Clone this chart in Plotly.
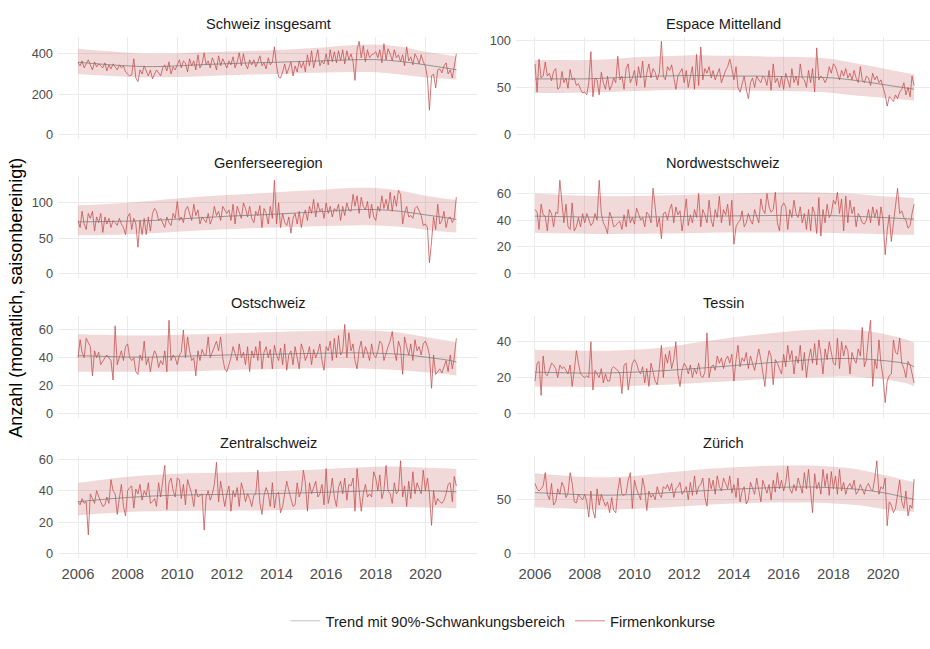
import pandas as pd
import plotly.graph_objects as go

# ---------------- data ----------------
months = pd.date_range("2006-01-01", periods=184, freq="MS")
knots = [f"{y}-01-01" for y in range(2006, 2022)] + ["2021-04-01"]

ch = [355, 340, 365, 330, 350, 370, 345, 320, 360, 335, 350, 340,
      330, 355, 315, 345, 325, 350, 335, 320, 345, 330, 340, 310,
      300, 290, 295, 375, 280, 262, 320, 300, 340, 310, 290, 320,
      275, 300, 320, 305, 290, 330, 345, 315, 360, 300, 335, 320,
      345, 370, 330, 365, 355, 310, 375, 340, 365, 320, 395, 330,
      350, 405, 345, 365, 330, 380, 355, 320, 390, 340, 375, 350,
      330, 365, 345, 385, 330, 360, 405, 340, 400, 350, 325, 370,
      345, 370, 335, 360, 390, 340, 355, 325, 380, 345, 360, 435,
      340, 285, 280, 310, 350, 300, 325, 360, 290, 340, 310, 365,
      330, 360, 310, 395, 340, 415, 330, 380, 420, 340, 365, 350,
      400, 345, 420, 360, 410, 355, 415, 365, 420, 350, 415, 370,
      400, 360, 268, 420, 462, 380, 440, 360, 420, 380, 395, 400,
      410, 380, 420, 355, 450, 370, 425, 400, 365, 420, 380, 395,
      360, 395, 340, 435, 365, 385, 345, 400, 380, 350, 395, 360,
      340, 280, 120, 290, 300, 230, 320, 325, 305, 340, 355, 300,
      320, 280, 330, 400]
ch_trend = [358, 348, 340, 336, 340, 346, 351, 355, 358, 362, 366, 370, 371, 362, 345, 326, 321]
ch_hi = [425, 415, 405, 400, 402, 407, 411, 415, 419, 425, 433, 442, 446, 435, 410, 392, 388]
ch_lo = [300, 292, 286, 283, 285, 289, 293, 297, 300, 304, 307, 309, 308, 297, 282, 274, 272]

em = [75, 45, 80, 60, 62, 77, 62, 65, 57, 67, 70, 48,
      50, 67, 55, 60, 49, 69, 58, 60, 52, 54, 48, 44,
      45, 42, 55, 88, 40, 60, 58, 42, 66, 55, 48, 62,
      47, 52, 60, 55, 83, 58, 62, 48, 70, 75, 55, 60,
      68, 52, 72, 60, 78, 50, 65, 75, 60, 70, 66, 58,
      65, 99, 62, 58, 72, 68, 74, 60, 48, 62, 66, 70,
      55, 68, 50, 62, 72, 48, 85, 52, 93, 58, 70, 65,
      72, 60, 68, 58, 65, 70, 55, 62, 68, 72, 80, 70,
      58, 72, 50, 45, 55, 62, 48, 38, 55, 60, 50, 62,
      58, 55, 62, 60, 52, 68, 47, 75, 55, 60, 50, 62,
      48, 65, 58, 50, 70, 55, 62, 52, 75, 60, 58, 50,
      68, 55, 70, 45, 92, 58, 62, 60, 55, 60, 72, 65,
      75, 72, 65, 58, 68, 62, 70, 60, 65, 58, 68, 60,
      55, 72, 58, 55, 62, 60, 52, 65, 58, 62, 55, 58,
      50, 42, 30, 40, 38, 35, 42, 38, 45, 48, 55, 42,
      50, 40, 62, 52]
em_trend = [59, 59, 59, 60, 61, 62, 62.5, 62.5, 62, 62, 61.5, 61, 60, 57, 53, 49, 48]
em_hi = [79, 79, 79, 80, 82, 83, 84, 84, 83.5, 83, 82.5, 82, 80, 75, 70, 65, 64]
em_lo = [44, 44, 44.5, 45, 46, 47, 47.5, 47.5, 47, 46.5, 46, 45.5, 44, 41, 39, 36.5, 36]

ge = [75, 65, 88, 70, 62, 85, 78, 88, 60, 80, 72, 85,
      58, 80, 70, 78, 65, 75, 72, 68, 78, 70, 65, 55,
      80, 85, 62, 78, 70, 37, 75, 55, 78, 55, 80, 60,
      85, 92, 88, 75, 78, 70, 65, 80, 72, 68, 85, 78,
      102, 75, 80, 72, 90, 95, 85, 75, 98, 82, 90, 70,
      80, 75, 72, 85, 70, 78, 95, 82, 88, 75, 95, 90,
      85, 90, 75, 98, 70, 95, 85, 78, 100, 92, 80, 95,
      78, 72, 88, 82, 96, 65, 92, 85, 70, 95, 78, 132,
      70, 100, 65, 85, 72, 68, 80, 57, 78, 85, 70, 88,
      65, 82, 90, 75, 95, 85, 105, 80, 100, 88, 92, 78,
      100, 85, 95, 80, 92, 88, 98, 75, 95, 82, 100, 90,
      88, 112, 95, 110, 85, 108, 95, 90, 102, 78, 98, 80,
      75, 95, 88, 110, 92, 105, 90, 115, 88, 110, 95, 118,
      112, 70, 85, 95, 80, 82, 78, 92, 95, 88, 82, 68,
      70, 65, 15, 45, 80, 62, 98, 70, 75, 88, 65, 78,
      80, 72, 78, 108]
ge_trend = [73, 73.5, 74, 75, 77, 79, 81, 82.5, 84, 86, 88, 90, 90.5, 88, 83, 78, 76.5]
ge_hi = [96.5, 98, 100, 103, 106, 109, 111, 113, 115, 117, 119, 121, 121, 117, 110, 105, 104]
ge_lo = [54, 54.5, 55.5, 57, 59, 61, 62.5, 64, 65, 66, 67, 68, 68, 66, 62, 58.5, 58]

nw = [48, 46, 33, 52, 44, 43, 32, 48, 45, 35, 46, 45,
      70, 50, 38, 52, 35, 33, 53, 32, 35, 42, 35, 45,
      38, 45, 40, 36, 38, 45, 40, 70, 45, 38, 35, 30,
      46, 42, 35, 36, 38, 39, 33, 44, 35, 48, 38, 42,
      37, 49, 45, 40, 42, 35, 46, 44, 38, 64, 50, 35,
      42, 26, 45, 46, 40, 48, 52, 38, 50, 44, 47, 32,
      43, 56, 36, 44, 38, 48, 42, 60, 35, 48, 44, 38,
      55, 40, 35, 48, 42, 58, 38, 48, 44, 52, 36, 55,
      22, 35, 38, 40, 47, 35, 38, 45, 40, 37, 48, 42,
      38, 56, 48, 45, 60, 50, 46, 48, 61, 38, 32, 50,
      53, 50, 33, 48, 42, 55, 45, 42, 50, 38, 45, 33,
      48, 32, 50, 45, 30, 57, 28, 48, 38, 52, 42, 45,
      55, 52, 61, 45, 56, 32, 58, 38, 55, 45, 50, 35,
      45, 42, 38, 37, 40, 48, 38, 50, 42, 48, 36, 50,
      40, 14, 32, 44, 24, 38, 52, 64, 45, 47, 42, 40,
      34, 36, 45, 52]
nw_trend = [43, 42.7, 42.4, 42.2, 42.3, 42.5, 42.8, 43, 43.2, 43.4, 43.6, 43.6, 43.4, 42.8, 42, 41, 40.8]
nw_hi = [60, 59, 58.3, 58, 58.2, 58.6, 59, 59.5, 60, 60.5, 61, 61, 60.5, 59.5, 58, 57, 56.5]
nw_lo = [30.6, 30.2, 29.8, 29.6, 29.7, 29.9, 30.2, 30.5, 30.7, 30.8, 30.8, 30.7, 30.4, 30, 29.5, 29, 29]

os_ = [40, 53, 44, 40, 54, 51, 48, 27, 45, 40, 44, 35,
       38, 40, 42, 40, 38, 24, 63, 35, 40, 45, 38, 48,
       50, 40, 38, 40, 30, 28, 42, 38, 52, 35, 40, 30,
       40, 45, 42, 33, 38, 35, 45, 30, 67, 38, 42, 40,
       35, 42, 44, 60, 40, 55, 45, 38, 40, 27, 45, 38,
       46, 42, 42, 55, 40, 44, 48, 52, 45, 55, 40, 32,
       30, 35, 40, 48, 42, 38, 50, 40, 44, 35, 48, 30,
       45, 40, 48, 38, 52, 32, 44, 48, 40, 46, 32, 49,
       42, 38, 47, 35, 50, 31, 42, 45, 35, 48, 40, 32,
       50, 45, 38, 42, 48, 35, 46, 40, 44, 50, 38, 31,
       48, 45, 52, 38, 54, 40, 56, 42, 45, 64, 40, 58,
       45, 50, 38, 32, 46, 52, 40, 48, 44, 38, 50, 42,
       40, 45, 52, 50, 38, 44, 48, 52, 59, 45, 38, 52,
       47, 28, 55, 48, 42, 50, 38, 53, 45, 48, 42, 50,
       52, 48, 42, 18, 42, 28, 30, 32, 29, 33, 38, 30,
       42, 32, 40, 54]
os_trend = [41.5, 41, 40.5, 40.5, 41, 41.5, 42, 42.3, 42.6, 43, 43.3, 43.5, 43.3, 42.5, 40.5, 38, 37]
os_hi = [57, 56.5, 56, 56, 56.5, 57, 57.5, 58, 58.5, 59, 59.5, 60, 59.5, 58, 55, 52, 51]
os_lo = [30, 30, 30, 30, 30.2, 30.5, 31, 31.5, 32, 32.3, 32.5, 32.5, 32, 31, 29.5, 27.8, 27.3]

ti = [18, 28, 29, 10, 32, 22, 21, 24, 28, 27, 25, 20,
      27, 25, 26, 24, 22, 27, 15, 24, 35, 28, 22, 21,
      20, 21, 20, 40, 13, 24, 22, 20, 25, 17, 22, 18,
      18, 25, 26, 25, 24, 22, 11, 27, 28, 13, 22, 28,
      30, 28, 24, 22, 26, 17, 25, 15, 28, 22, 18, 16,
      25, 38, 20, 33, 28, 35, 25, 30, 40, 22, 15, 24,
      28, 26, 22, 27, 20, 25, 22, 28, 21, 20, 23, 45,
      20, 26, 27, 24, 32, 28, 31, 25, 30, 32, 28, 33,
      18, 30, 38, 26, 31, 29, 34, 25, 32, 28, 24, 30,
      36, 30, 22, 15, 28, 35, 32, 16, 30, 28, 25, 22,
      33, 26, 38, 30, 35, 22, 32, 28, 38, 24, 34, 20,
      30, 36, 28, 39, 27, 41, 33, 22, 36, 30, 40, 34,
      28, 27, 42, 25, 40, 32, 38, 35, 22, 34, 30, 28,
      36, 32, 48, 26, 30, 43, 52, 15, 30, 25, 41, 28,
      20, 6, 18, 21, 22, 41, 34, 33, 42, 28, 25, 20,
      29, 27, 22, 17]
ti_trend = [23, 22.7, 22.5, 22.6, 23, 23.7, 24.6, 25.6, 26.7, 27.8, 28.9, 29.9, 30.6, 30.5, 29.5, 27.5, 26]
ti_hi = [35.5, 35.2, 35, 35, 35.5, 36.5, 38.5, 40.5, 42.5, 44, 45.5, 46.5, 47, 46.5, 44.5, 41, 39.5]
ti_lo = [15, 14.8, 14.7, 14.8, 15.2, 15.8, 16.5, 17.3, 18.1, 18.9, 19.6, 20.2, 20.5, 20.3, 19, 16.5, 15]

zs = [33, 31, 35, 32, 33, 12, 38, 35, 32, 40, 36, 33,
      30, 31, 36, 32, 47, 40, 38, 25, 35, 44, 30, 24,
      40, 42, 43, 29, 41, 38, 44, 34, 40, 37, 45, 32,
      33, 35, 30, 45, 36, 48, 56, 28, 45, 48, 40, 36,
      48, 47, 35, 44, 31, 47, 42, 38, 30, 41, 36, 37,
      38, 15, 36, 40, 34, 38, 44, 58, 33, 46, 38, 30,
      38, 43, 27, 40, 36, 42, 30, 45, 40, 33, 38, 35,
      30, 37, 38, 53, 32, 25, 37, 42, 38, 30, 45, 29,
      38, 39, 26, 30, 38, 46, 40, 35, 30, 31, 45, 36,
      40, 53, 45, 27, 45, 38, 42, 46, 36, 38, 44, 31,
      54, 32, 38, 48, 36, 30, 42, 46, 38, 48, 34, 44,
      43, 48, 27, 54, 40, 27, 38, 44, 36, 38, 36, 52,
      48, 40, 50, 35, 40, 56, 40, 38, 32, 45, 38, 40,
      59, 36, 43, 30, 46, 35, 52, 38, 45, 42, 38, 53,
      40, 48, 38, 18, 40, 31, 35, 33, 32, 34, 38, 44,
      45, 33, 49, 43]
zs_trend = [33, 34.5, 35.7, 36.6, 37.2, 37.5, 37.7, 37.9, 38.2, 38.6, 39, 39.5, 40, 40.2, 40, 39.5, 39.3]
zs_hi = [45, 47, 48.8, 50, 50.8, 51.2, 51.5, 51.8, 52.3, 53, 53.8, 54.6, 55.2, 55.2, 54.5, 54, 53.8]
zs_lo = [24.3, 25.5, 26.5, 27, 27.2, 27.3, 27.3, 27.4, 27.6, 28, 28.5, 29, 29.5, 29.7, 29.3, 28.9, 28.8]

zh = [65, 60, 58, 60, 63, 75, 55, 50, 65, 45, 48, 60,
      55, 66, 62, 52, 56, 75, 65, 48, 47, 55, 52, 50,
      55, 48, 34, 58, 40, 33, 60, 45, 55, 50, 44, 48,
      38, 52, 40, 38, 58, 70, 55, 54, 56, 68, 75, 42,
      68, 60, 55, 50, 70, 60, 40, 58, 52, 55, 50, 62,
      55, 52, 62, 60, 64, 58, 65, 52, 60, 62, 66, 55,
      58, 62, 50, 66, 54, 72, 55, 62, 64, 70, 52, 44,
      70, 60, 68, 55, 72, 62, 58, 70, 65, 60, 72, 56,
      64, 52, 70, 48, 58, 62, 46, 50, 66, 60, 55, 70,
      60, 48, 68, 62, 56, 64, 50, 68, 57, 75, 60, 68,
      58, 66, 81, 60, 56, 64, 58, 70, 62, 56, 75, 60,
      78, 55, 38, 74, 60, 66, 55, 78, 62, 74, 54, 76,
      60, 72, 55, 78, 58, 66, 55, 62, 65, 60, 68, 55,
      58, 64, 60, 55, 62, 65, 60, 58, 70, 86, 55, 62,
      60, 70, 26, 48, 45, 38, 42, 55, 68, 48, 42, 58,
      35, 45, 42, 69]
zh_trend = [56.5, 55.5, 54.5, 54.2, 54.8, 56, 57.3, 58.6, 59.7, 60.7, 61.5, 61.7, 61, 59.5, 56.5, 51.5, 50.3]
zh_hi = [74.5, 72.5, 71, 70.8, 72, 74.5, 76.5, 78.5, 80, 81, 81.5, 81.5, 80.5, 78, 73, 67.5, 66]
zh_lo = [43, 42, 41.2, 41, 41.5, 42.5, 44, 45.3, 46.4, 47.2, 47.5, 47.3, 46.5, 44.8, 41.5, 39, 38.7]

titles = ["Schweiz insgesamt", "Espace Mittelland", "Genferseeregion", "Nordwestschweiz",
          "Ostschweiz", "Tessin", "Zentralschweiz", "Zürich"]
series = [ch, em, ge, nw, os_, ti, zs, zh]
trends = [ch_trend, em_trend, ge_trend, nw_trend, os_trend, ti_trend, zs_trend, zh_trend]
highs = [ch_hi, em_hi, ge_hi, nw_hi, os_hi, ti_hi, zs_hi, zh_hi]
lows = [ch_lo, em_lo, ge_lo, nw_lo, os_lo, ti_lo, zs_lo, zh_lo]
y_dticks = [200, 50, 50, 20, 20, 20, 20, 50]
x_ticks = ["2006-01-01", "2008-01-01", "2010-01-01", "2012-01-01",
           "2014-01-01", "2016-01-01", "2018-01-01", "2020-01-01"]
x_labels = ["2006", "2008", "2010", "2012", "2014", "2016", "2018", "2020"]

for name, s in zip(titles, series):
    assert len(s) == 184, (name, len(s))

# ---------------- styling ----------------
W, H = 930, 649
FONT = "Liberation Sans, Arial, sans-serif"
RED = "rgba(195,75,75,0.75)"
BAND = "rgba(195,80,80,0.22)"
TREND = "rgba(120,120,120,0.75)"
GRID = "#EBEBEB"

col_px = [(58, 478), (516, 930)]
x_ranges = [["2005-03-12", "2022-02-14"], ["2005-03-28", "2021-11-20"]]
row_top = [33, 173.5, 315, 457]
panel_h = 103.5

fig = go.Figure()
layout = dict(
    width=W, height=H,
    margin=dict(l=0, r=0, t=0, b=0),
    paper_bgcolor="white", plot_bgcolor="white",
    font=dict(family=FONT, color="#4D4D4D"),
    showlegend=True,
    legend=dict(orientation="h", x=503 / W, xanchor="center", y=1 - 624 / H, yanchor="middle",
                font=dict(size=14.7, color="#1A1A1A", family=FONT), bgcolor="rgba(0,0,0,0)",
                traceorder="normal", itemwidth=30),
)
annotations = []

for i in range(8):
    row, col = divmod(i, 2)
    k = i + 1
    xname = "x" if k == 1 else f"x{k}"
    yname = "y" if k == 1 else f"y{k}"
    vals, tr, hi, lo = series[i], trends[i], highs[i], lows[i]
    m = max(max(vals), max(hi))
    top = row_top[row]
    bot = top + panel_h
    x0, x1 = col_px[col]
    layout["xaxis" if k == 1 else f"xaxis{k}"] = dict(
        domain=[x0 / W, x1 / W], anchor=yname, type="date", range=x_ranges[col],
        tickvals=x_ticks, ticktext=x_labels, showticklabels=(row == 3),
        tickfont=dict(size=14.8, color="#4D4D4D", family=FONT),
        showgrid=True, gridcolor=GRID, gridwidth=1, zeroline=False, showline=False, ticks="",
        ticklabelstandoff=5,
    )
    layout["yaxis" if k == 1 else f"yaxis{k}"] = dict(
        domain=[1 - bot / H, 1 - top / H], anchor=xname, range=[-0.05 * m, 1.05 * m],
        dtick=y_dticks[i], tick0=0, tickfont=dict(size=12.8, color="#4D4D4D", family=FONT),
        showgrid=True, gridcolor=GRID, gridwidth=1, zeroline=False, showline=False, ticks="",
        ticklabelstandoff=4,
    )
    fig.add_trace(go.Scatter(x=knots, y=lo, xaxis=xname, yaxis=yname, mode="lines",
                             line=dict(width=0, shape="spline", smoothing=1),
                             showlegend=False, hoverinfo="skip"))
    fig.add_trace(go.Scatter(x=knots, y=hi, xaxis=xname, yaxis=yname, mode="lines",
                             line=dict(width=0, shape="spline", smoothing=1),
                             fill="tonexty", fillcolor=BAND, showlegend=False, hoverinfo="skip"))
    fig.add_trace(go.Scatter(x=months, y=vals, xaxis=xname, yaxis=yname, mode="lines",
                             line=dict(color=RED, width=1), showlegend=False))
    fig.add_trace(go.Scatter(x=knots, y=tr, xaxis=xname, yaxis=yname, mode="lines",
                             line=dict(color=TREND, width=1, shape="spline", smoothing=1),
                             showlegend=False))
    annotations.append(dict(text=titles[i], xref="paper", yref="paper",
                            x=(x0 + x1) / 2 / W, y=1 - (top - 13) / H,
                            xanchor="center", yanchor="middle", showarrow=False,
                            font=dict(size=14.6, color="#1A1A1A", family=FONT)))

# legend entries
fig.add_trace(go.Scatter(x=[None], y=[None], mode="lines", name="Trend mit 90%-Schwankungsbereich",
                         line=dict(color="#D5D5D5", width=1.5)))
fig.add_trace(go.Scatter(x=[None], y=[None], mode="lines", name="Firmenkonkurse",
                         line=dict(color="#E6ABAB", width=1.5)))

annotations.append(dict(text="Anzahl (monatlich, saisonbereinigt)", xref="paper", yref="paper",
                        x=16 / W, y=1 - 297 / H, textangle=-90, showarrow=False,
                        xanchor="center", yanchor="middle",
                        font=dict(size=18, color="#000000", family=FONT)))
layout["annotations"] = annotations
fig.update_layout(**layout)
fig.write_html("out.html",
               config={"displayModeBar": False},
               post_script="document.body.style.margin='0';document.body.style.padding='0';")
